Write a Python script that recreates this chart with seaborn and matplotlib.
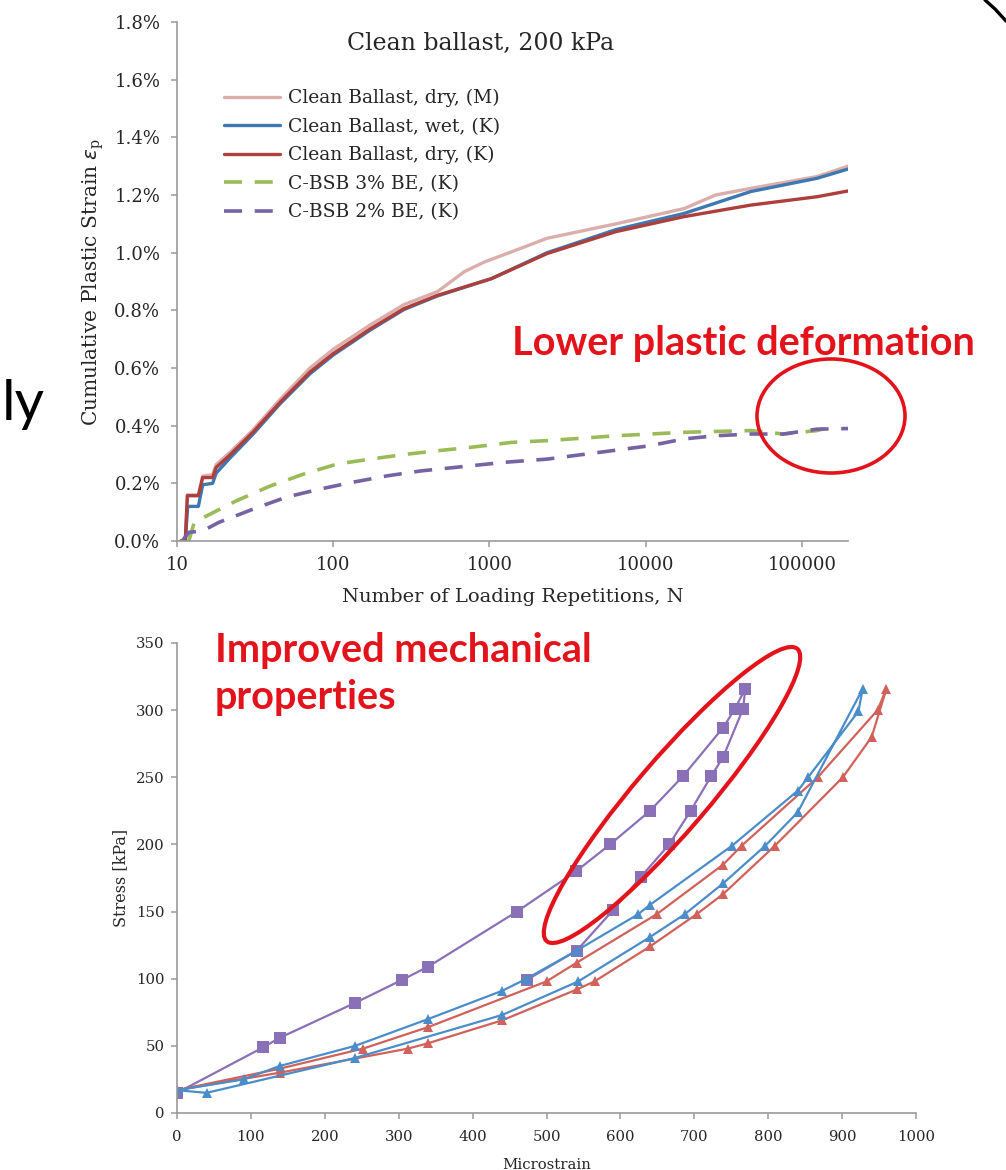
import pandas as pd
import matplotlib
matplotlib.use('Agg')
import matplotlib.pyplot as plt
import seaborn as sns
from matplotlib.patches import Ellipse
from matplotlib.ticker import FuncFormatter, FixedLocator, NullLocator

# ---- top chart: cumulative plastic strain (%) vs number of loading repetitions
n_dry_m = [10.6, 11.3, 11.65, 13.7, 14.6, 16.9, 17.8, 21.6, 30.6, 45.5, 71, 100, 173, 284, 465,
           690, 930, 1385, 2340, 6450, 17600, 28000, 47000, 125000, 197000]
eps_dry_m = [0, 0, 0.16, 0.16, 0.225, 0.23, 0.265, 0.305, 0.385, 0.49, 0.60, 0.665, 0.75, 0.82, 0.865,
             0.934, 0.968, 1.003, 1.05, 1.10, 1.153, 1.20, 1.223, 1.264, 1.30]

n_wet_k = [10.6, 11.3, 11.7, 13.7, 14.6, 16.9, 17.8, 21.6, 30.6, 45.5, 71, 100, 173, 284, 465,
           1030, 2340, 6450, 17600, 47000, 125000, 197000]
eps_wet_k = [0, 0, 0.12, 0.12, 0.195, 0.20, 0.235, 0.285, 0.37, 0.475, 0.58, 0.645, 0.732, 0.803, 0.85,
             0.91, 1.0, 1.08, 1.136, 1.212, 1.258, 1.29]

n_dry_k = [10.6, 11.3, 11.65, 13.7, 14.6, 16.9, 17.8, 21.6, 30.6, 45.5, 71, 100, 173, 284, 465,
           1030, 2340, 6450, 17600, 47000, 125000, 197000]
eps_dry_k = [0, 0, 0.157, 0.157, 0.22, 0.22, 0.255, 0.296, 0.377, 0.48, 0.586, 0.65, 0.736, 0.806, 0.852,
             0.91, 0.997, 1.073, 1.125, 1.165, 1.194, 1.214]

n_bsb3 = [11.9, 12.9, 14.6, 23.9, 39.2, 64.5, 106, 173, 284, 465, 763, 1385, 2340, 6450, 17600,
          47000, 76000, 125000, 163000]
eps_bsb3 = [0, 0.065, 0.08, 0.139, 0.19, 0.232, 0.267, 0.284, 0.30, 0.313, 0.325, 0.342, 0.348, 0.365,
            0.377, 0.383, 0.371, 0.383, 0.40]

n_bsb2 = [10.8, 11.9, 14.6, 18.6, 30.5, 50, 82, 134, 222, 363, 596, 1250, 2340, 4970, 10500, 17600,
          28000, 47000, 76000, 125000, 197000]
eps_bsb2 = [0.0, 0.03, 0.035, 0.065, 0.11, 0.152, 0.18, 0.204, 0.226, 0.243, 0.255, 0.273, 0.284, 0.307,
            0.33, 0.354, 0.365, 0.371, 0.371, 0.388, 0.39]

top_labels = ['Clean Ballast, dry, (M)', 'Clean Ballast, wet, (K)', 'Clean Ballast, dry, (K)',
              'C-BSB 3% BE, (K)', 'C-BSB 2% BE, (K)']
top_colors = ['#dcaeab', '#3d78b3', '#ad3f3c', '#9bbb59', '#7563a4']
x_ticks_top = [10, 100, 1000, 10000, 100000]

# ---- bottom chart: stress vs microstrain (loading / unloading loops)
purple_x = [0, 117, 139, 241, 304, 340, 460, 540, 586, 640, 685, 739, 755, 769,
            766, 739, 723, 695, 666, 628, 590, 541, 473]
purple_y = [15, 49, 56, 82, 99, 109, 150, 180, 200, 225, 251, 287, 301, 316,
            301, 265, 251, 225, 200, 176, 151, 121, 99]

red_x = [0, 139, 252, 340, 500, 541, 649, 739, 764, 867, 948, 960,
         940, 901, 809, 739, 703, 640, 565, 541, 440, 340, 313, 139, 0]
red_y = [17, 33, 48, 64, 98, 112, 148, 185, 199, 250, 300, 316,
         280, 250, 199, 163, 148, 124, 98, 92, 69, 52, 48, 30, 17]

blue_x = [0, 90, 139, 241, 340, 440, 473, 541, 624, 640, 751, 840, 854, 922, 928,
          840, 796, 739, 687, 640, 543, 440, 241, 40, 0]
blue_y = [17, 25, 35, 50, 70, 91, 100, 121, 148, 155, 199, 240, 250, 299, 316,
          224, 199, 171, 148, 131, 98, 73, 41, 15, 17]

sns.set_theme(style="white")
plt.rcParams['font.family'] = ['DejaVu Serif']

fig = plt.figure(figsize=(10.06, 11.7), dpi=100)
W, H = 1006, 1170

def px_axes(left, top, right, bottom):
    return fig.add_axes([left / W, 1 - bottom / H, (right - left) / W, (bottom - top) / H])

def style_axes(ax):
    for s in ['top', 'right']:
        ax.spines[s].set_visible(False)
    for s in ['left', 'bottom']:
        ax.spines[s].set_color('#9a9a9a')
        ax.spines[s].set_linewidth(1.2)
    ax.tick_params(axis='both', which='major', direction='out', length=4, width=1.1,
                   color='#9a9a9a', bottom=True, left=True)

# ---------------- top chart
ax1 = px_axes(177, 22, 848, 541)
ax1.set_xscale('log')
series = [(n_dry_m, eps_dry_m), (n_wet_k, eps_wet_k), (n_dry_k, eps_dry_k), (n_bsb3, eps_bsb3), (n_bsb2, eps_bsb2)]
for i, ((n, e), lab, col) in enumerate(zip(series, top_labels, top_colors)):
    df = pd.DataFrame({'N': n, 'eps': e})
    dashed = i >= 3
    sns.lineplot(data=df, x='N', y='eps', ax=ax1, color=col, label=lab, sort=False, estimator=None,
                 linewidth=2.6 if dashed else 2.4)
    if dashed:
        ax1.get_lines()[-1].set_dashes((5, 3.5))

ax1.set_xlim(10, 197000)
ax1.set_ylim(0, 1.8)
ax1.set_yticks([i * 0.2 for i in range(10)])
ax1.yaxis.set_major_formatter(FuncFormatter(lambda v, p: f"{v:.1f}%"))
ax1.xaxis.set_major_locator(FixedLocator(x_ticks_top))
ax1.xaxis.set_minor_locator(NullLocator())
ax1.xaxis.set_major_formatter(FuncFormatter(lambda v, p: f"{int(round(v))}"))
style_axes(ax1)
ax1.tick_params(axis='both', labelsize=13)
ax1.tick_params(axis='y', pad=8)
ax1.tick_params(axis='x', pad=7)
ax1.set_xlabel('Number of Loading Repetitions, N', fontsize=14, labelpad=10)
ax1.set_ylabel(r'Cumulative Plastic Strain $\varepsilon_\mathregular{p}$', fontsize=14.5, labelpad=6)
ax1.set_title('Clean ballast, 200 kPa', fontsize=17, x=0.453, y=0.93)
leg = ax1.legend(loc='upper left', bbox_to_anchor=(0.07, 0.871), frameon=False, fontsize=13.5,
                 handlelength=3.0, handletextpad=0.4, labelspacing=0.56, borderpad=0, borderaxespad=0)

# ---------------- bottom chart
ax2 = px_axes(177, 643, 916, 1113)
for xs, ys, col, mk, ms in [(purple_x, purple_y, '#8a70b6', 's', 8.5),
                            (red_x, red_y, '#d0615b', '^', 7.5),
                            (blue_x, blue_y, '#4b8dc8', '^', 7.5)]:
    df = pd.DataFrame({'strain': xs, 'stress': ys})
    sns.lineplot(data=df, x='strain', y='stress', ax=ax2, sort=False, estimator=None, color=col,
                 linewidth=1.6, marker=mk, markersize=ms, markeredgewidth=0)
ax2.set_xlim(0, 1000)
ax2.set_ylim(0, 350)
ax2.set_xticks(range(0, 1001, 100))
ax2.set_yticks(range(0, 351, 50))
style_axes(ax2)
ax2.tick_params(axis='both', labelsize=10.7)
ax2.tick_params(axis='x', pad=8)
ax2.tick_params(axis='y', pad=5)
ax2.set_xlabel('Microstrain', fontsize=10.7, labelpad=10)
ax2.set_ylabel('Stress [kPa]', fontsize=11.5, labelpad=5)

# ---------------- overlay annotations (pixel coordinates)
ov = fig.add_axes([0, 0, 1, 1], zorder=10)
ov.set_xlim(0, W)
ov.set_ylim(H, 0)
ov.axis('off')
ov.patch.set_alpha(0)
red = '#e3131b'
ov.text(743, 343, 'Lower plastic deformation', color=red, fontsize=28.5, fontweight='bold',
        family=['Lato'], ha='center', va='center')
ov.text(215, 632, 'Improved mechanical\nproperties', color=red, fontsize=28.5, fontweight='bold',
        family=['Lato'], ha='left', va='top', linespacing=1.32)
ov.add_patch(Ellipse((831, 416), 148, 114, fill=False, edgecolor=red, linewidth=2.6))
ov.add_patch(Ellipse((672, 795), 385, 72, angle=-49.4, fill=False, edgecolor=red, linewidth=3))
ov.text(45, 420, 'ly', color='black', fontsize=41, family=['Lato'], ha='right', va='baseline')
ov.plot([985, 995, 1006], [0, 9, 21], color='black', linewidth=2.4)

fig.savefig('out.png', dpi=100)
